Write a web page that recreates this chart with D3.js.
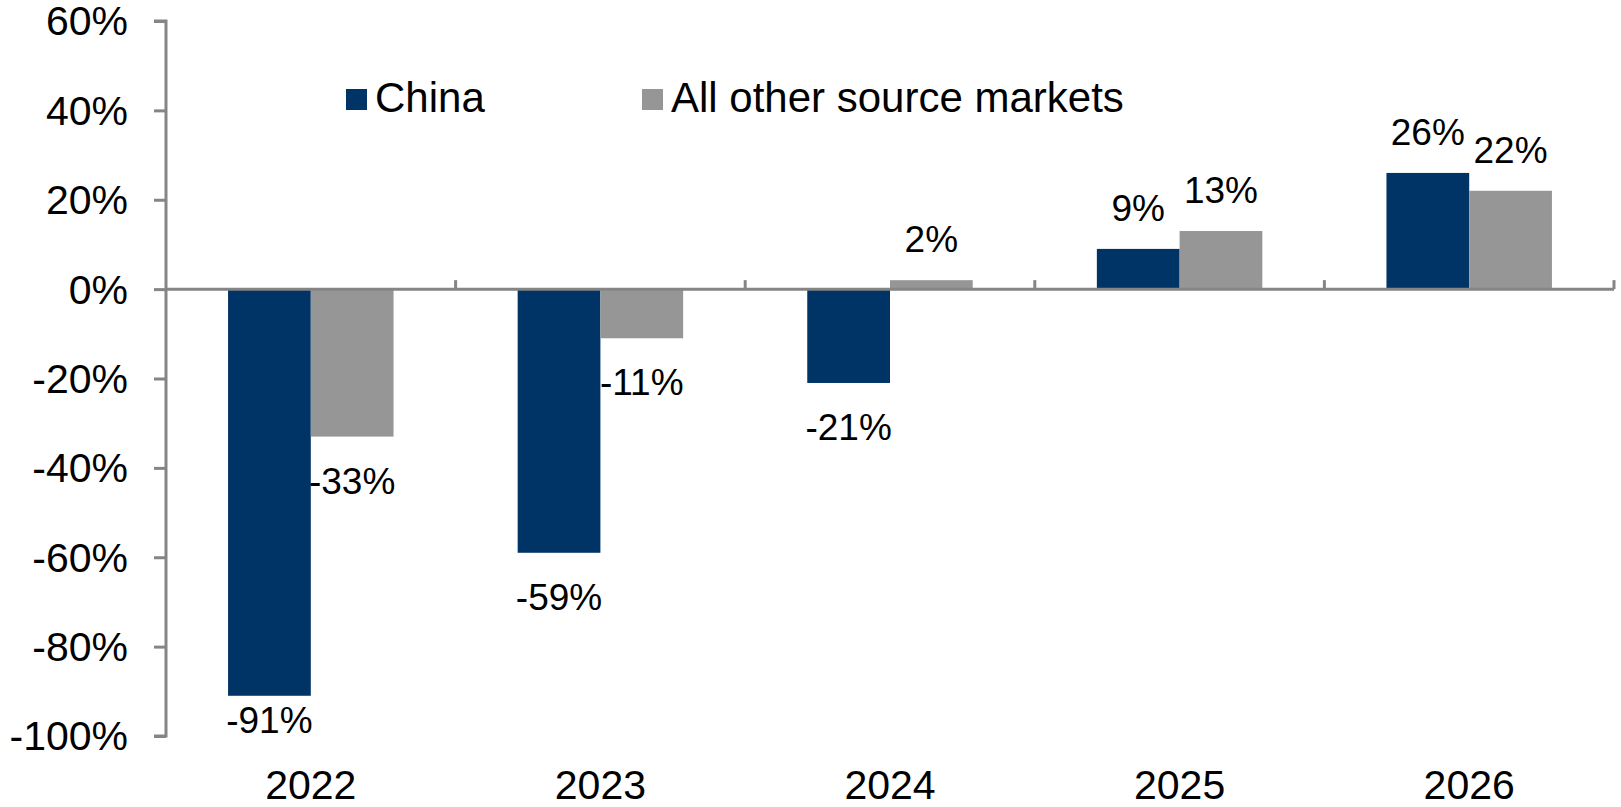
<!DOCTYPE html>
<html>
<head>
<meta charset="utf-8">
<script src="https://cdn.jsdelivr.net/npm/d3@7"></script>
<style>
  html, body { margin: 0; padding: 0; background: #fff; }
  svg { display: block; font-family: "Liberation Sans", Arial, sans-serif; }
</style>
</head>
<body>
<svg id="chart" width="1621" height="807"></svg>
<script>
// Year-on-year change in visitor arrivals, by source market
const years = ["2022", "2023", "2024", "2025", "2026"];
const seriesNames = ["China", "All other source markets"];
const china = [-91, -59, -21, 9, 26];
const otherMarkets = [-33, -11, 2, 13, 22];
const yTicks = [-100, -80, -60, -40, -20, 0, 20, 40, 60];

const colors = { "China": "#003366", "All other source markets": "#969696" };
const axisColor = "#858585";

const rows = years.map((yr, i) => ({
  year: yr,
  values: [
    { key: "China", value: china[i] },
    { key: "All other source markets", value: otherMarkets[i] }
  ]
}));

const svg = d3.select("#chart");
const plotLeft = 166, plotRight = 1614, plotTop = 21, plotBottom = 736;

const x0 = d3.scaleBand().domain(years).range([plotLeft, plotRight]).padding(0);
const x1 = d3.scaleBand().domain(seriesNames).range([0, x0.bandwidth()])
  .paddingInner(0).paddingOuter(0.75);
const y = d3.scaleLinear().domain([-100, 60]).range([plotBottom, plotTop]);

// Bars
const groups = svg.append("g").selectAll("g").data(rows).join("g")
  .attr("transform", d => `translate(${x0(d.year)},0)`);

groups.selectAll("rect").data(d => d.values).join("rect")
  .attr("x", d => x1(d.key))
  .attr("width", x1.bandwidth())
  .attr("y", d => y(Math.max(0, d.value)))
  .attr("height", d => Math.abs(y(d.value) - y(0)))
  .attr("fill", d => colors[d.key]);

// Value labels: above positive bars, below negative bars (kept inside the plot)
groups.selectAll("text").data(d => d.values).join("text")
  .attr("x", d => x1(d.key) + x1.bandwidth() / 2)
  .attr("y", d => d.value >= 0 ? y(d.value) - 28 : Math.min(y(d.value) + 57, plotBottom - 3))
  .attr("text-anchor", "middle")
  .attr("font-size", 37)
  .attr("fill", "#000")
  .text(d => d.value + "%");

// Y axis
const yAxis = d3.axisLeft(y).tickValues(yTicks).tickSize(12).tickFormat(d => d + "%");
const gy = svg.append("g").attr("transform", `translate(${plotLeft},0)`).call(yAxis);
gy.select(".domain").attr("stroke", axisColor).attr("stroke-width", 3)
  .attr("d", `M-12,${plotTop}H0V${plotBottom}H-12`);
gy.selectAll(".tick line").attr("stroke", axisColor).attr("stroke-width", 3);
gy.selectAll(".tick text")
  .attr("x", -38)
  .attr("dy", "0.34em")
  .attr("font-size", 41)
  .attr("font-family", "Liberation Sans, Arial, sans-serif")
  .attr("fill", "#000");

// Category axis along the zero line, with ticks between groups pointing up
const gx = svg.append("g").attr("transform", `translate(0,${y(0)})`);
gx.append("line")
  .attr("x1", plotLeft).attr("x2", plotRight)
  .attr("stroke", axisColor).attr("stroke-width", 3);
const boundaries = years.map(d => x0(d) + x0.bandwidth());
gx.selectAll("line.tick").data(boundaries).join("line")
  .attr("class", "tick")
  .attr("x1", d => d).attr("x2", d => d)
  .attr("y1", 0).attr("y2", -9)
  .attr("stroke", axisColor).attr("stroke-width", 3);

// Year labels below the plot
svg.append("g").selectAll("text").data(years).join("text")
  .attr("x", d => x0(d) + x0.bandwidth() / 2)
  .attr("y", 799)
  .attr("text-anchor", "middle")
  .attr("font-size", 41)
  .attr("fill", "#000")
  .text(d => d);

// Legend
const legendX = [346, 642];
const legend = svg.append("g").selectAll("g").data(seriesNames).join("g")
  .attr("transform", (d, i) => `translate(${legendX[i]},0)`);
legend.append("rect")
  .attr("x", 0).attr("y", 89).attr("width", 21).attr("height", 21)
  .attr("fill", d => colors[d]);
legend.append("text")
  .attr("x", 29).attr("y", 112)
  .attr("font-size", 42)
  .attr("fill", "#000")
  .text(d => d);
</script>
</body>
</html>
